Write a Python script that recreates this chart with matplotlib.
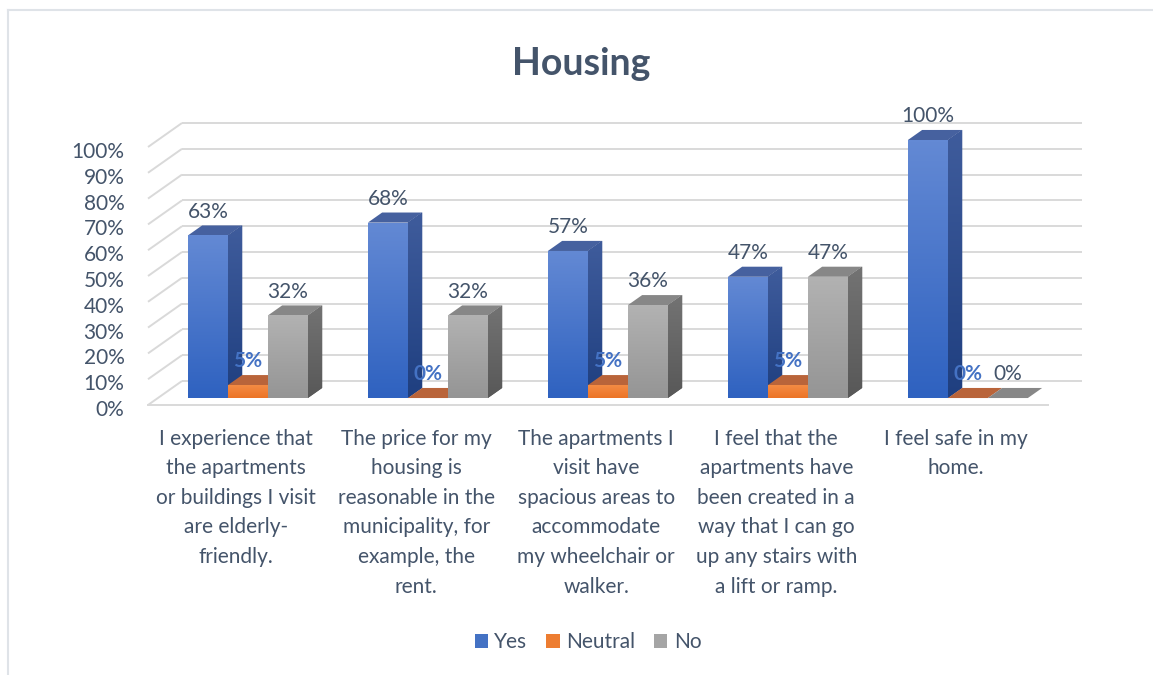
import numpy as np
import matplotlib
matplotlib.use('Agg')
import matplotlib.pyplot as plt
from matplotlib.patches import Polygon, Patch
from matplotlib.lines import Line2D
from matplotlib.colors import LinearSegmentedColormap
from matplotlib.transforms import ScaledTranslation

plt.rcParams['font.family'] = ['Lato', 'DejaVu Sans']

# data
categories = [
    "I experience that\nthe apartments\nor buildings I visit\nare elderly-\nfriendly.",
    "The price for my\nhousing is\nreasonable in the\nmunicipality, for\nexample, the\nrent.",
    "The apartments I\nvisit have\nspacious areas to\naccommodate\nmy wheelchair or\nwalker.",
    "I feel that the\napartments have\nbeen created in a\nway that I can go\nup any stairs with\na lift or ramp.",
    "I feel safe in my\nhome.",
]
series_names = ["Yes", "Neutral", "No"]
yes = [0.63, 0.68, 0.57, 0.47, 1.00]
neutral = [0.05, 0.00, 0.05, 0.05, 0.00]
no = [0.32, 0.32, 0.36, 0.47, 0.00]
values = [yes, neutral, no]

# colours: front (top, bottom), side (top, bottom), top face
front_cols = [('#6389d4', '#2f62c0'), ('#f48b44', '#ec7426'), ('#b2b2b2', '#959595')]
side_cols = [('#3f5c9c', '#1f3f80'), ('#b25a23', '#a04e1c'), ('#737373', '#585858')]
top_cols = ['#46619f', '#b9643a', '#878787']
legend_cols = ['#4472c4', '#ed7d31', '#a5a5a5']
text_col = '#44546a'
fs = 15

W, H = 1153, 675
YTOP = 1.15
fig = plt.figure(figsize=(W / 100, H / 100), dpi=100)
ax = fig.add_axes([148 / W, 1 - 405 / H, 900 / W, YTOP * 258 / H])

# fake 3d depth (full box depth in data units)
dx_full = 34 / 180
dy_full = 24 / 258
t0, t1 = 0.29, 0.71
bw = 40 / 180
ddx = (t1 - t0) * dx_full
ddy = (t1 - t0) * dy_full
b0 = t0 * dy_full


def grad_fill(patch, verts, c_top, c_bot, z):
    xs = [p[0] for p in verts]
    ys = [p[1] for p in verts]
    if max(ys) - min(ys) < 1e-6:
        return
    cmap = LinearSegmentedColormap.from_list('g', [c_bot, c_top])
    img = ax.imshow(np.linspace(0, 1, 64).reshape(-1, 1), cmap=cmap,
                    extent=[min(xs), max(xs), min(ys), max(ys)], origin='lower',
                    aspect='auto', zorder=z, interpolation='bilinear')
    img.set_clip_path(patch)


# gridlines: side wall + back wall + front floor edge
ticks = np.arange(0, 1.01, 0.1)
for v in ticks:
    ax.plot([-0.5, -0.5 + dx_full], [v, v + dy_full], color='#d9d9d9', lw=1.4,
            zorder=1, clip_on=False, solid_capstyle='butt')
    ax.plot([-0.5 + dx_full, 4.5 + dx_full], [v + dy_full, v + dy_full],
            color='#d9d9d9', lw=1.4, zorder=1, clip_on=False, solid_capstyle='butt')
ax.plot([-0.5, 4.5], [0, 0], color='#d9d9d9', lw=1.4, zorder=1, clip_on=False)

# bars
z = 10
for i in range(len(categories)):
    for j in range(3):
        h = values[j][i]
        xl = i + t0 * dx_full + (j - 1.5) * bw
        xr = xl + bw
        side = [(xr, b0), (xr + ddx, b0 + ddy), (xr + ddx, b0 + h + ddy), (xr, b0 + h)]
        sp = Polygon(side, closed=True, facecolor=side_cols[j][1], edgecolor='none', zorder=z)
        ax.add_patch(sp)
        grad_fill(sp, side, side_cols[j][0], side_cols[j][1], z + 0.1)
        top = [(xl, b0 + h), (xr, b0 + h), (xr + ddx, b0 + h + ddy), (xl + ddx, b0 + h + ddy)]
        ax.add_patch(Polygon(top, closed=True, facecolor=top_cols[j], edgecolor='none', zorder=z + 0.5))
        bar = ax.bar(xl + bw / 2, h, width=bw, bottom=b0, color=front_cols[j][1],
                     edgecolor='none', zorder=z + 1)[0]
        grad_fill(bar, [(xl, b0), (xr, b0 + h)], front_cols[j][0], front_cols[j][1], z + 1.1)
        lab = f"{int(round(h * 100))}%"
        if j == 1:
            ax.annotate(lab, (xl + bw / 2, b0 + h + ddy), xytext=(0, 10), textcoords='offset points',
                        ha='center', va='center', fontsize=fs, fontweight='bold',
                        color='#4472c4', zorder=100, annotation_clip=False)
        else:
            ax.annotate(lab, (xl + bw / 2, b0 + h + ddy), xytext=(0, 10), textcoords='offset points',
                        ha='center', va='center', fontsize=fs, color=text_col,
                        zorder=100, annotation_clip=False)
        z += 2

# category labels
for i, c in enumerate(categories):
    ax.annotate(c, (i - 0.01, 0), xytext=(0, -17), textcoords='offset points', ha='center', va='top',
                fontsize=fs, color=text_col, linespacing=1.60, annotation_clip=False)

ax.set_xlim(-0.5, 4.5)
ax.set_ylim(0, YTOP)
ax.set_xticks([])
ax.set_yticks(ticks)
ax.set_yticklabels([f"{int(round(v * 100))}%" for v in ticks])
ax.tick_params(axis='y', length=0, pad=17, labelsize=fs, labelcolor=text_col)
for lab in ax.get_yticklabels():
    lab.set_transform(lab.get_transform() + ScaledTranslation(0, -0.03, fig.dpi_scale_trans))
for s in ax.spines.values():
    s.set_visible(False)
ax.patch.set_alpha(0)

fig.text(581 / W, 1 - 75 / H, "Housing", ha='center', va='baseline', fontsize=27,
         fontweight='bold', color=text_col)

handles = [Patch(facecolor=legend_cols[k], label=series_names[k]) for k in range(3)]
fig.legend(handles=handles, loc='center', bbox_to_anchor=(588 / W, 1 - 642 / H), ncol=3,
           frameon=False, fontsize=fs, handlelength=0.65, handleheight=0.65,
           handletextpad=0.3, columnspacing=0.9, labelcolor=text_col)

# chart border (left and top visible)
fig.add_artist(Line2D([7.5 / W, 7.5 / W], [0, 1 - 9.5 / H], color='#dfe3e8', lw=1.5))
fig.add_artist(Line2D([7.5 / W, 1], [1 - 9.5 / H, 1 - 9.5 / H], color='#dfe3e8', lw=1.5))

fig.savefig('out.png', dpi=100)
